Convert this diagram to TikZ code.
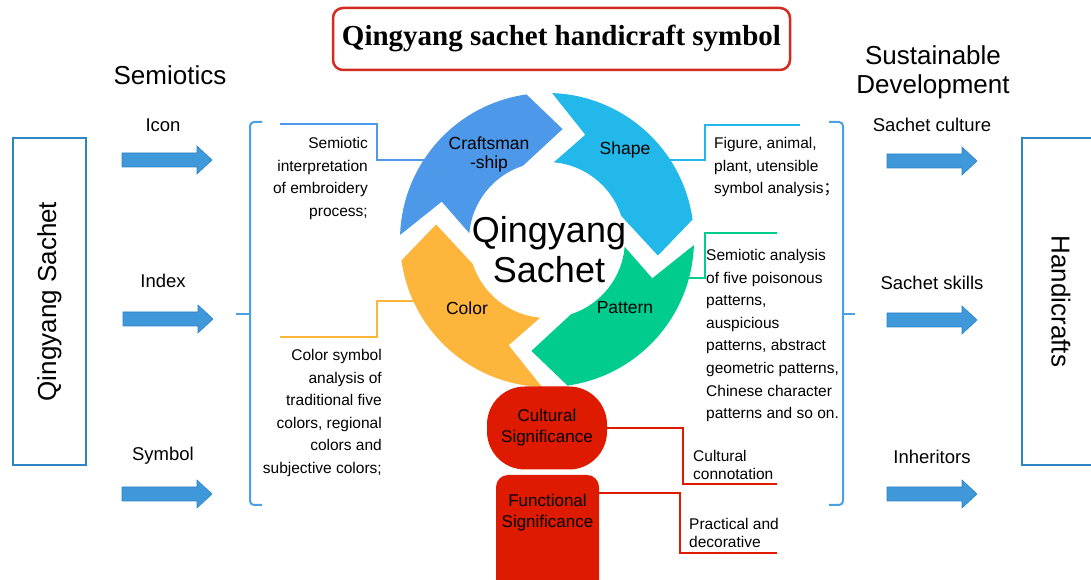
\documentclass[tikz,border=0pt]{standalone}
\usepackage{fontspec}
\setmainfont{Liberation Sans}
\newfontfamily\titlefont{Liberation Serif}
\newfontfamily\cjkfont{Noto Sans CJK SC}
\usetikzlibrary{positioning}

\definecolor{craftblue}{HTML}{4D98E8}
\definecolor{shapecyan}{HTML}{22B8E9}
\definecolor{patterngreen}{HTML}{00CC8E}
\definecolor{colororange}{HTML}{FDB53C}
\definecolor{sigred}{HTML}{DE1A00}
\definecolor{titlered}{HTML}{D22B20}
\definecolor{arrowblue}{HTML}{3E98DA}
\definecolor{arrowedge}{HTML}{2F84C4}
\definecolor{boxblue}{HTML}{2F86C6}
\definecolor{braceblue}{HTML}{4AA0E0}

\begin{document}
\begin{tikzpicture}[%
    x=1pt, y=1pt,               % work in pixels of the layout
    every node/.style={inner sep=0pt},
    ]
% -------------------------------------------------
% Styles
\tikzset{
  titlebox/.style={draw=titlered, line width=2.5pt, rounded corners=10pt,
    minimum width=457pt, minimum height=62pt,
    font=\titlefont\bfseries\fontsize{29}{32}\selectfont},
  bigtxt/.style={font=\fontsize{26}{29}\selectfont, align=center},
  lbl/.style={font=\fontsize{18.5}{21}\selectfont},
  body/.style={font=\fontsize{15.5}{22.6}\selectfont},
  small/.style={font=\fontsize{15.5}{18}\selectfont, align=left},
  segtxt/.style={font=\fontsize{17.5}{19}\selectfont, align=center},
  sidebox/.style={bigtxt, draw=boxblue, line width=1.6pt},
  fatarrow/.style={fill=arrowblue, draw=arrowedge, line width=0.6pt},
  brace/.style={draw=braceblue, line width=2pt, rounded corners=4pt},
  link/.style={line width=1.4pt},
  redlink/.style={link, sigred},
  sigbox/.style={fill=sigred, font=\fontsize{17}{21}\selectfont, align=center},
}
\useasboundingbox (0,0) rectangle (1091,580);
\clip (0,0) rectangle (1091,580);

% -------------------------------------------------
% Headings and the two side boxes
\node[titlebox] (title) at (561.5,541) {Qingyang sachet handicraft symbol};
\node[bigtxt] (semio) at (170,505) {Semiotics};
\node[bigtxt] (sustain) at (933,508) {Sustainable\\Development};

\node[sidebox, rotate=90, minimum width=327pt, minimum height=73pt]
  (qybox) at (49.5,278.5) {Qingyang Sachet};
\node[sidebox, rotate=-90, minimum width=327pt, minimum height=78pt]
  (hcbox) at (1061,278.5) {Handicrafts};

% -------------------------------------------------
% Fat arrows with their labels
\foreach \ax/\ay in {122/420, 123/261, 122/86, 887/419, 887/260, 887/86}
  \filldraw[fatarrow] (\ax,\ay-7) -- (\ax+75,\ay-7) -- (\ax+75,\ay-14)
    -- (\ax+90,\ay) -- (\ax+75,\ay+14) -- (\ax+75,\ay+7) -- (\ax,\ay+7) -- cycle;

\node[lbl] (icon) at (163,455) {Icon};
\node[lbl] (index) at (163,299) {Index};
\node[lbl] (symbol) at (163,124) {Symbol};
\node[lbl] (culture) at (932,455) {Sachet culture};
\node[lbl] (skills) at (932,297) {Sachet skills};
\node[lbl] (inherit) at (932,123) {Inheritors};

% brackets
\draw[brace] (262,458) -- (250,458) -- (250,75) -- (262,75);
\draw[brace] (250,266) -- (236,266);
\draw[brace] (829,458) -- (843,458) -- (843,75) -- (829,75);
\draw[brace] (843,266) -- (855,266);

% -------------------------------------------------
% Descriptions and their links to the ring
\coordinate (craftpt) at (440,420);
\coordinate (colorpt) at (440,279);
\coordinate (shapept) at (655,420);
\coordinate (patternpt) at (655,302);

\node[body, align=right, anchor=north east] (crafttxt) at (368,443)
  {Semiotic\\interpretation\\of embroidery\\process;};
\node[body, align=right, anchor=north east] (colortxt) at (382,231)
  {Color symbol\\analysis of\\traditional five\\colors, regional\\colors and\\subjective colors;};
\node[body, align=left, anchor=north west] (shapetxt) at (714,443)
  {Figure, animal,\\plant, utensible\\symbol analysis{\cjkfont ；}};
\node[body, align=left, anchor=north west] (patterntxt) at (706,331)
  {Semiotic analysis\\of five poisonous\\patterns,\\auspicious\\patterns, abstract\\geometric patterns,\\Chinese character\\patterns and so on.};

\draw[link, craftblue] (craftpt) -- (377,420) -- (377,456) -- (280,456);
\draw[link, colororange] (colorpt) -- (377,279) -- (377,243) -- (280,243);
\draw[link, shapecyan] (shapept) -- (705,420) -- (705,455) -- (800,455);
\draw[link, patterngreen] (patternpt) -- (705,302) -- (705,347) -- (777,347);

% -------------------------------------------------
% The ring of four curved arrows
\begin{scope}[shift={(547,340)}]
  \foreach \t/\c in {82/craftblue, -8/shapecyan, -98/patterngreen, 172/colororange}
    \fill[\c] ({\t+96}:147) arc[start angle=\t+96, end angle=\t+16, radius=147]
      -- (\t:112) -- ({\t+26}:78) arc[start angle=\t+26, end angle=\t+93, radius=78]
      -- ({\t+78}:112) -- cycle;
\end{scope}
\node[segtxt] (craft) at (489,426) {Craftsman\\-ship};
\node[segtxt] (shape) at (625,430) {Shape};
\node[segtxt] (color) at (467,272) {Color};
\node[segtxt] (pattern) at (625,272) {Pattern};
\node[font=\fontsize{36}{40}\selectfont, align=center] (hub) at (549,330)
  {Qingyang\\Sachet};

% -------------------------------------------------
% Significance blocks
\node[sigbox, minimum width=120pt, minimum height=83pt, rounded corners=38pt]
  (cult) at (547,152) {Cultural\\Significance};
\fill[sigred, rounded corners=12pt] (496,105) rectangle (599,-20);
\coordinate (funcbox) at (599,87);
\node[sigbox] (func) at (547.5,67) {Functional\\Significance};

\coordinate (cultend) at (777,96);
\coordinate (funcend) at (777,27);
\draw[redlink] (cult.east) -- (683,152) |- (cultend);
\draw[redlink] (funcbox) -- (680,87) |- (funcend);

\node[small, anchor=north west] (culttxt) at (693,130) {Cultural\\connotation};
\node[small, anchor=north west] (functxt) at (689,62) {Practical and\\decorative};
% -------------------------------------------------
\end{tikzpicture}
\end{document}
